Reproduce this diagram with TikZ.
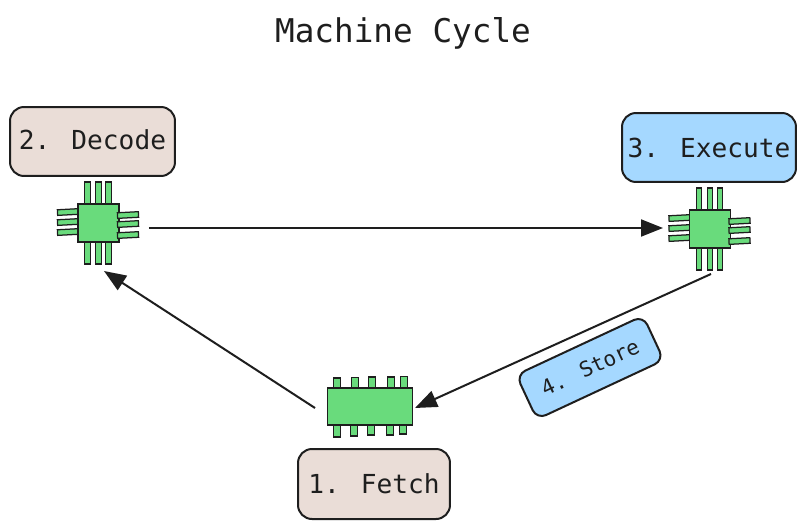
\documentclass[tikz,border=0pt]{standalone}
\usepackage{fontspec}
\setmainfont{DejaVu Sans Mono}
\usetikzlibrary{arrows.meta}
\definecolor{ink}{HTML}{1E1E1E}
\definecolor{chipgreen}{HTML}{69DB7C}
\definecolor{boxbrown}{HTML}{EADDD7}
\definecolor{boxblue}{HTML}{A5D8FF}
\tikzset{
	stagebox/.style={draw=ink,line width=0.04cm,rounded corners=0.28cm,text=ink,font=\fontsize{14.9}{18}\selectfont,inner sep=0pt},
	chipbody/.style={draw=ink,line width=0.03cm,fill=chipgreen,inner sep=0pt},
	chippin/.style={draw=ink,line width=0.025cm,fill=chipgreen},
	chiphull/.style={inner sep=0pt,outer sep=0pt},
	flow/.style={draw=ink,line width=0.04cm,-{Triangle[length=0.44cm,width=0.34cm]}}
}
\begin{document}
\begin{tikzpicture}[x=0.02cm,y=-0.02cm]
\useasboundingbox (0,0) rectangle (805,528);

\node[text=ink,font=\fontsize{18.6}{22}\selectfont] (title) at (403,33) {Machine Cycle};

\node[stagebox,fill=boxbrown,minimum width=3.3cm,minimum height=1.38cm,text depth=2pt] (decodebox) at (92.5,141.5) {2. Decode};
\node[stagebox,fill=boxblue,minimum width=3.48cm,minimum height=1.38cm] (executebox) at (709,147.5) {3. Execute};
\node[stagebox,fill=boxbrown,minimum width=3.04cm,minimum height=1.4cm] (fetchbox) at (374,484) {1. Fetch};
\node[stagebox,fill=boxblue,minimum width=2.8cm,minimum height=0.98cm,rounded corners=0.2cm,rotate=25,font=\fontsize{12}{15}\selectfont] (storebox) at (590,367.5) {4. Store};

% square chips
\foreach \cx/\cy in {98.5/223,710/229}{
	\foreach \d in {-11,0,10}{
		\draw[chippin] (\cx+\d-2.8,\cy-41) rectangle (\cx+\d+2.8,\cy-19);
		\draw[chippin] (\cx+\d-2.8,\cy+19) rectangle (\cx+\d+2.8,\cy+41);
	}
	\foreach \d in {-11,-1,9}{
		\draw[chippin,rotate around={3:(\cx-30,\cy+\d)}] (\cx-41,\cy+\d-2.8) rectangle (\cx-20,\cy+\d+2.8);
	}
}
\node[chipbody,minimum width=0.82cm,minimum height=0.76cm] (decodechip) at (98.5,223) {};
\node[chipbody,minimum width=0.82cm,minimum height=0.76cm] (executechip) at (710,229) {};
\foreach \cx/\cy in {98.5/223,710/229}{
	\foreach \d in {-8,1,12}{
		\draw[chippin,rotate around={3:(\cx+30,\cy+\d)}] (\cx+19,\cy+\d-2.8) rectangle (\cx+40,\cy+\d+2.8);
	}
}

% long chip
\foreach \x/\ya in {337/378,355/377.5,372/377,391/377,404/376.5}{
	\draw[chippin] (\x-3.5,\ya) rectangle (\x+3.5,\ya+11);
}
\foreach \x/\yb in {337/437,354/436,371/435,390/435,403/434}{
	\draw[chippin] (\x-3.5,\yb-12) rectangle (\x+3.5,\yb);
}
\node[chipbody,minimum width=1.7cm,minimum height=0.74cm] (fetchchip) at (370,406.5) {};

% ends of the arrows
\node[chiphull,minimum width=1.8cm,minimum height=1.72cm] (decode) at (104,228) {};
\node[chiphull,minimum width=1.92cm,minimum height=1.84cm] (execute) at (711,228) {};
\node[chiphull,minimum width=2cm,minimum height=0.8cm] (fetch) at (365,408) {};

\draw[flow] (decode) -- (execute);
\draw[flow] (execute.south) -- (fetch.east);
\draw[flow] (fetch.west) -- (decode.south);
\end{tikzpicture}
\end{document}
